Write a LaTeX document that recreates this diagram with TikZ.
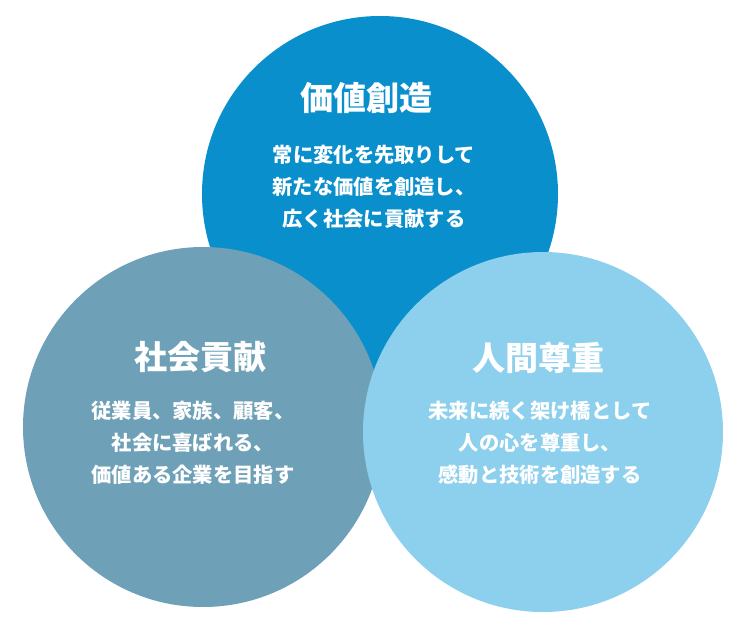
\documentclass[tikz,border=0pt]{standalone}
\usepackage{fontspec}
\newfontfamily\jp[BoldFont={Noto Sans CJK JP Black}]{Noto Sans CJK JP}
\definecolor{topblue}{RGB}{9,143,204}
\definecolor{greyblue}{RGB}{110,161,183}
\definecolor{lightblue}{RGB}{141,208,237}
\tikzset{
  disc/.style={circle, inner sep=0pt, draw=none},
  titletext/.style={text=white, font=\jp\bfseries\fontsize{33}{36}\selectfont, inner sep=0pt},
  bodytext/.style={text=white, font=\jp\bfseries\fontsize{20.3}{32}\selectfont, align=center, inner sep=0pt}
}
\begin{document}
\begin{tikzpicture}[x=1pt,y=-1pt]
\useasboundingbox (0,0) rectangle (740,629);
\node[disc, fill=topblue, minimum size=356pt] (c1) at (380,194) {};
\node[disc, fill=greyblue, minimum size=360pt] (c2) at (203,427) {};
\node[disc, fill=lightblue, minimum size=360pt] (c3) at (543,432) {};
\node[titletext] (t1) at (366,98) {価値創造};
\node[bodytext] (b1) at (374,187) {常に変化を先取りして\\新たな価値を創造し、\\広く社会に貢献する};
\node[titletext] (t2) at (200,357) {社会貢献};
\node[bodytext] (b2) at (193,443) {従業員、家族、顧客、\\社会に喜ばれる、\\価値ある企業を目指す};
\node[titletext] (t3) at (538,358) {人間尊重};
\node[bodytext] (b3) at (540,443) {未来に続く架け橋として\\人の心を尊重し、\\感動と技術を創造する};
\end{tikzpicture}
\end{document}
